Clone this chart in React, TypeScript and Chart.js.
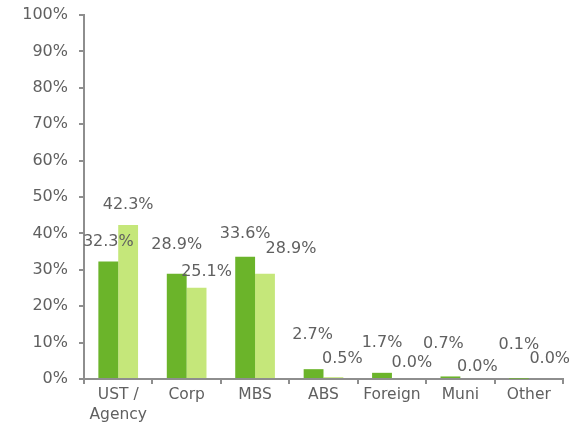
import React, { useEffect, useRef } from "react";
import { Chart, registerables } from "chart.js";

Chart.register(...registerables);

const categories: (string | string[])[] = [["UST /", "Agency"], "Corp", "MBS", "ABS", "Foreign", "Muni", "Other"];
const seriesA: number[] = [32.3, 28.9, 33.6, 2.7, 1.7, 0.7, 0.1];
const seriesB: number[] = [42.3, 25.1, 28.9, 0.5, 0.0, 0.0, 0.0];
const yTicks: number[] = [0, 10, 20, 30, 40, 50, 60, 70, 80, 90, 100];

const DARK = "#6BB42A";
const LIGHT = "#C5E77A";
const TEXT = "#606060";
const AXIS = "#8E8E8E";

// pixel nudges for the value labels (relative to each bar top / centre)
const labelNudgeA: [number, number][] = [[0, -20], [0, -29], [0, -23], [-1, -34], [0, -30], [-7, -33], [0, -34]];
const labelNudgeB: [number, number][] = [[0, -20], [10, -16], [26, -25], [9, -18], [10, -16], [7, -12], [11, -20]];

const valueLabels = {
  id: "valueLabels",
  afterDatasetsDraw(chart: any) {
    const ctx = chart.ctx;
    ctx.save();
    ctx.font = "16px 'DejaVu Sans'";
    ctx.fillStyle = TEXT;
    ctx.textAlign = "center";
    ctx.textBaseline = "middle";
    chart.data.datasets.forEach((ds: any, di: number) => {
      const meta = chart.getDatasetMeta(di);
      const nudges = di === 0 ? labelNudgeA : labelNudgeB;
      meta.data.forEach((bar: any, i: number) => {
        const v = ds.data[i] as number;
        const [dx, dy] = nudges[i];
        ctx.fillText(v.toFixed(1) + "%", bar.x + dx, bar.y + dy);
      });
    });
    ctx.restore();
  },
};

export default function App() {
  const ref = useRef<HTMLCanvasElement>(null);
  useEffect(() => {
    if (!ref.current) return;
    Chart.defaults.font.family = "'DejaVu Sans'";
    const chart = new Chart(ref.current, {
      type: "bar",
      data: {
        labels: categories,
        datasets: [
          { data: seriesA, backgroundColor: DARK, borderWidth: 0 },
          { data: seriesB, backgroundColor: LIGHT, borderWidth: 0 },
        ],
      },
      options: {
        animation: false,
        responsive: false,
        maintainAspectRatio: false,
        layout: { padding: { top: 15, right: 22, left: 8, bottom: 0 } },
        plugins: { legend: { display: false }, tooltip: { enabled: false } },
        datasets: { bar: { categoryPercentage: 0.58, barPercentage: 1 } },
        scales: {
          x: {
            grid: { drawOnChartArea: false, drawTicks: true, tickLength: 5, color: AXIS, lineWidth: 2 },
            border: { display: true, color: AXIS, width: 2 },
            ticks: { color: TEXT, font: { size: 15.5, lineHeight: 1.28 }, padding: 1, maxRotation: 0, autoSkip: false },
            afterFit: (s: any) => { s.height = 50; s.paddingLeft = 0; s.paddingRight = 0; },
          },
          y: {
            min: 0,
            max: 100,
            afterBuildTicks: (s: any) => { s.ticks = yTicks.map((v) => ({ value: v })); },
            grid: { drawOnChartArea: false, drawTicks: true, tickLength: 5, color: AXIS, lineWidth: 2 },
            border: { display: true, color: AXIS, width: 2 },
            ticks: { color: TEXT, font: { size: 16 }, padding: 11, callback: (v: any) => v + "%" },
            afterFit: (s: any) => { s.width = 76; s.paddingTop = 0; s.paddingBottom = 0; },
          },
        },
      },
      plugins: [valueLabels],
    });
    return () => chart.destroy();
  }, []);
  return (
    <div style={{ position: "fixed", left: 0, top: 0, width: 585, height: 429, background: "#fff" }}>
      <canvas ref={ref} width={585} height={429} style={{ width: 585, height: 429 }} />
    </div>
  );
}
